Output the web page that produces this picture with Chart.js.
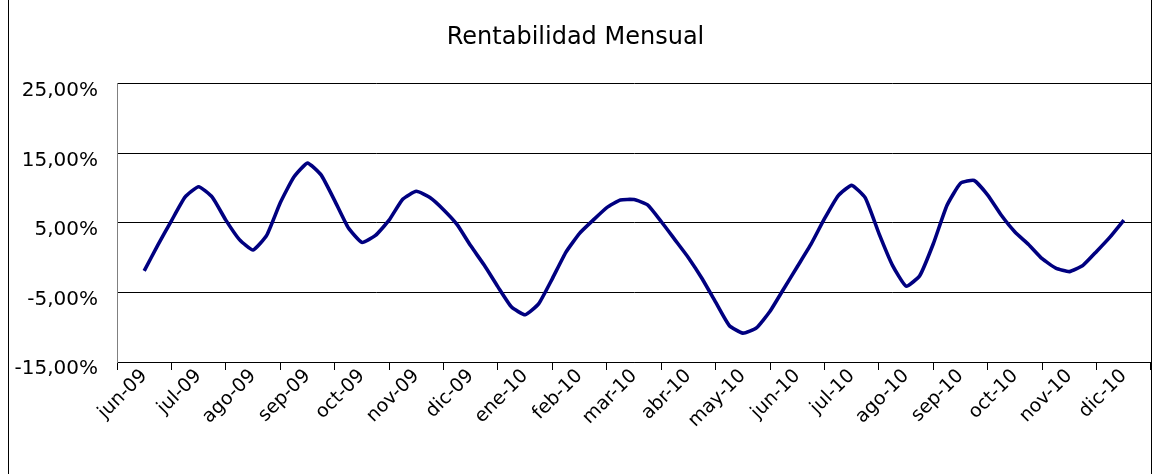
<!DOCTYPE html>
<html>
<head>
<meta charset="utf-8">
<script src="https://cdn.jsdelivr.net/npm/chart.js@4.4.1/dist/chart.umd.min.js"></script>
<style>
    html, body { margin: 0; padding: 0; background: #ffffff; }
    #wrap { position: relative; width: 1156px; height: 474px; }
    #frame {
        position: absolute; left: 8px; top: -2px; width: 1142px; height: 480px;
        border-left: 1px solid #000; border-right: 1px solid #000;
        pointer-events: none;
    }
</style>
</head>
<body>
<div id="wrap">
    <canvas id="rentChart" width="1156" height="474"></canvas>
    <div id="frame"></div>
</div>
<script>
// month labels shown under the axis
var months = ['jun-09', 'jul-09', 'ago-09', 'sep-09', 'oct-09', 'nov-09', 'dic-09',
    'ene-10', 'feb-10', 'mar-10', 'abr-10', 'may-10', 'jun-10', 'jul-10',
    'ago-10', 'sep-10', 'oct-10', 'nov-10', 'dic-10'];

// weekly readings (about 4 per month), in %
var rentabilidad = [
    -1.9, 1.8, 5.3, 8.7, 10.2, 8.7, 5.4, 2.6, 1.1, 3.2,
    7.9, 11.6, 13.6, 11.9, 8.2, 4.3, 2.2, 3.2, 5.4, 8.4,
    9.55, 8.65, 6.9, 4.75, 1.7, -1.1, -4.2, -7.1, -8.2, -6.6,
    -3.0, 0.8, 3.5, 5.4, 7.2, 8.3, 8.35, 7.6, 5.2, 2.6,
    0.0, -3.0, -6.4, -9.75, -10.85, -10.1, -7.7, -4.5, -1.3, 1.9,
    5.6, 8.9, 10.4, 8.6, 3.5, -1.1, -4.1, -2.6, 2.0, 7.5,
    10.7, 11.1, 9.0, 6.1, 3.7, 1.9, -0.15, -1.5, -2.0, -1.1,
    0.9, 3.0, 5.4
];

var pointsPerMonth = 4;
var yTicks = [-15, -5, 5, 15, 25];

document.addEventListener('DOMContentLoaded', function() {
    var seriesPoints = rentabilidad.map(function(v, i) {
        return { x: i / pointsPerMonth, y: v };
    });

    var ctx = document.getElementById('rentChart');
    new Chart(ctx, {
        type: 'line',
        data: {
            labels: months,
            datasets: [{
                label: 'Rentabilidad Mensual',
                data: seriesPoints,
                xAxisID: 'xv',
                borderColor: '#000080',
                borderWidth: 3.6,
                pointRadius: 0,
                tension: 0.15,
                fill: false
            }]
        },
        options: {
            responsive: false,
            animation: false,
            layout: { padding: { left: 0, right: 5, top: 0, bottom: 0 } },
            plugins: {
                legend: { display: false },
                tooltip: { enabled: false },
                title: {
                    display: true,
                    text: 'Rentabilidad Mensual',
                    color: '#000',
                    font: { family: "'DejaVu Sans', sans-serif", size: 24, weight: 'normal' },
                    padding: { top: 23, bottom: 32 }
                }
            },
            scales: {
                x: {
                    type: 'category',
                    offset: true,
                    border: { display: true, color: '#000', width: 1 },
                    grid: { offset: true, drawOnChartArea: false, drawTicks: true, tickLength: 8, color: '#000' },
                    ticks: {
                        color: '#000',
                        minRotation: 45,
                        maxRotation: 45,
                        autoSkip: false,
                        padding: -5,
                        font: { family: "'DejaVu Sans', sans-serif", size: 19 }
                    },
                    afterFit: function(scale) { scale.height = 112; }
                },
                xv: {
                    type: 'linear',
                    display: false,
                    min: -0.5,
                    max: months.length - 0.5
                },
                y: {
                    min: -15,
                    max: 25,
                    border: { display: true, color: '#808080', width: 1 },
                    grid: { color: '#000', drawTicks: false },
                    afterBuildTicks: function(scale) {
                        scale.ticks = yTicks.map(function(v) { return { value: v }; });
                    },
                    ticks: {
                        color: '#000',
                        padding: 19,
                        labelOffset: 7,
                        font: { family: "'DejaVu Sans', sans-serif", size: 20 },
                        callback: function(v) { return v.toFixed(2).replace('.', ',') + '%'; }
                    },
                    afterFit: function(scale) { scale.width = 117; }
                }
            }
        }
    });
});
</script>
</body>
</html>
